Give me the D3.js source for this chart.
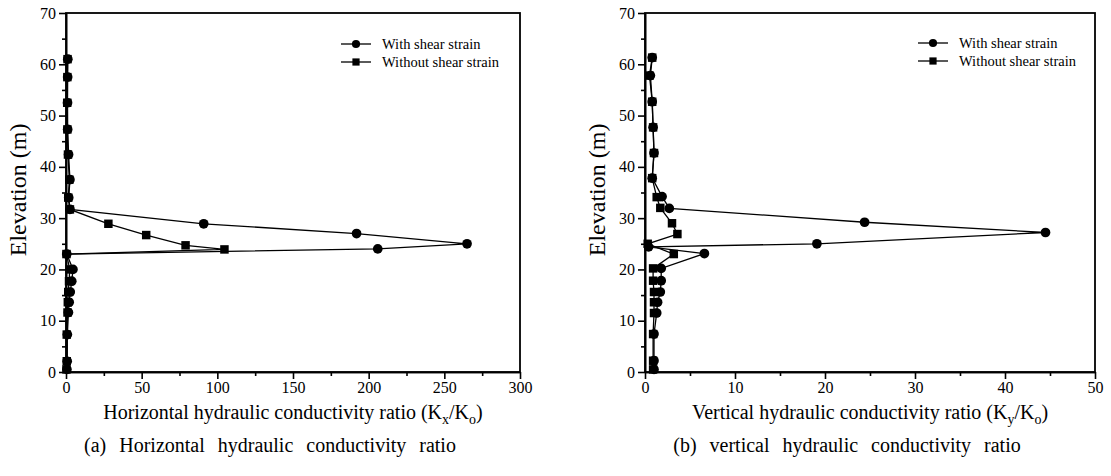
<!DOCTYPE html>
<html>
<head>
<meta charset="utf-8">
<script src="https://cdn.jsdelivr.net/npm/d3@7"></script>
<style>
body { margin: 0; background: #fff; }
svg text { font-family: "Liberation Serif", "DejaVu Serif", serif; fill: #000; }
.axis path, .axis line { stroke: #000; stroke-width: 1.6; }
.axis text { font-size: 16px; }
</style>
</head>
<body>
<svg id="chart" width="1111" height="476"></svg>
<script>
// (a) horizontal hydraulic conductivity ratio Kx/Ko
const elevAWith = [0.5, 2.1, 7.3, 11.6, 13.6, 15.6, 17.7, 20.0, 23.0, 24.0, 25.0, 27.0, 28.9, 31.7, 34.0, 37.5, 42.4, 47.3, 52.5, 57.5, 61.0];
const kxWith = [0.6, 0.8, 0.9, 1.6, 2.1, 2.8, 3.8, 4.6, 0.5, 206, 265, 192, 91, 2.6, 1.8, 2.6, 1.7, 1.1, 1.0, 1.1, 1.2];
const elevAWithout = [0.5, 2.1, 7.3, 11.6, 13.6, 15.6, 17.7, 20.0, 23.0, 23.9, 24.7, 26.7, 28.9, 31.7, 34.0, 37.5, 42.4, 47.3, 52.5, 57.5, 61.0];
const kxWithout = [0.3, 0.5, 0.5, 1.0, 1.2, 1.5, 2.0, 2.5, 0.3, 104.7, 79, 53, 28, 2.6, 1.5, 2.2, 1.3, 0.9, 0.8, 0.9, 1.0];

// (b) vertical hydraulic conductivity ratio Ky/Ko
const elevBWith = [0.5, 2.2, 7.4, 11.5, 13.6, 15.6, 17.8, 20.2, 23.1, 24.4, 25.0, 27.2, 29.2, 31.9, 34.2, 37.8, 42.7, 47.7, 52.7, 57.8, 61.3];
const kyWith = [1.0, 1.0, 1.0, 1.3, 1.4, 1.7, 1.8, 1.8, 6.6, 0.4, 19.1, 44.5, 24.4, 2.7, 1.9, 0.8, 1.0, 0.9, 0.8, 0.6, 0.8];
const elevBWithout = [0.5, 2.2, 7.4, 11.5, 13.6, 15.6, 17.8, 20.2, 23.0, 25.0, 26.9, 29.0, 32.0, 34.1, 37.8, 42.7, 47.7, 52.7, 57.8, 61.3];
const kyWithout = [0.9, 0.9, 0.9, 1.0, 1.0, 1.0, 0.9, 0.9, 3.2, 0.3, 3.6, 3.0, 1.7, 1.3, 0.8, 1.0, 0.9, 0.8, 0.5, 0.8];

const xTicksA = [0, 50, 100, 150, 200, 250, 300];
const xTicksB = [0, 10, 20, 30, 40, 50];
const yTicks = [0, 10, 20, 30, 40, 50, 60, 70];
const seriesNames = ['With shear strain', 'Without shear strain'];

const svg = d3.select('#chart');

const zip = (es, vs) => es.map((e, i) => ({e: e, v: vs[i]}));

// d3 axes put their own font attrs on the group, drop them
const plain = (sel) => sel.attr('font-family', null).attr('font-size', null);

const drawPanel = (cfg) => {
    const x = d3.scaleLinear().domain([0, cfg.xMax]).range([cfg.left, cfg.right]);
    const y = d3.scaleLinear().domain([0, 70]).range([372, 13]);
    const g = svg.append('g');

    // minor ticks
    const minorX = d3.range(0, cfg.xMax + 0.001, cfg.xMinor).filter(v => !cfg.xTicks.includes(v));
    g.append('g')
        .classed('axis', true)
        .attr('transform', 'translate(0,372)')
        .call(d3.axisBottom(x).tickValues(minorX).tickSize(4).tickSizeOuter(0).tickFormat(''));
    g.append('g')
        .classed('axis', true)
        .attr('transform', 'translate(' + cfg.left + ',0)')
        .call(d3.axisLeft(y).tickValues([5, 15, 25, 35, 45, 55, 65]).tickSize(4).tickSizeOuter(0).tickFormat(''));

    // major ticks
    g.append('g')
        .classed('axis', true)
        .attr('transform', 'translate(0,372)')
        .call(d3.axisBottom(x).tickValues(cfg.xTicks).tickSize(7).tickSizeOuter(0).tickPadding(3))
        .call(plain);
    g.append('g')
        .classed('axis', true)
        .attr('transform', 'translate(' + cfg.left + ',0)')
        .call(d3.axisLeft(y).tickValues(yTicks).tickSize(7).tickSizeOuter(0).tickPadding(3))
        .call(plain);

    // frame
    g.append('rect')
        .attr('x', x(0)).attr('y', y(70))
        .attr('width', x(cfg.xMax) - x(0)).attr('height', y(0) - y(70))
        .attr('fill', 'none').attr('stroke', '#000').attr('stroke-width', 1.8);

    const line = d3.line().x(d => x(d.v)).y(d => y(d.e));
    const series = [
        {pts: zip(cfg.elevWithout, cfg.without), shape: d3.symbolSquare, size: 72},
        {pts: zip(cfg.elevWith, cfg.with), shape: d3.symbolCircle, size: 74}
    ];
    series.forEach(s => {
        g.append('path')
            .datum(s.pts)
            .attr('d', line)
            .attr('fill', 'none').attr('stroke', '#000').attr('stroke-width', 1.3);
    });
    series.forEach(s => {
        g.selectAll(null)
            .data(s.pts)
            .enter().append('path')
            .attr('d', d3.symbol().type(s.shape).size(s.size))
            .attr('transform', d => 'translate(' + x(d.v) + ',' + y(d.e) + ')')
            .attr('fill', '#000');
    });

    // legend
    const leg = g.append('g');
    [d3.symbolCircle, d3.symbolSquare].forEach((shape, i) => {
        const ly = cfg.legendY + i * 18;
        leg.append('line')
            .attr('x1', cfg.legendX).attr('x2', cfg.legendX + 30)
            .attr('y1', ly).attr('y2', ly)
            .attr('stroke', '#000').attr('stroke-width', 1.3);
        leg.append('path')
            .attr('d', d3.symbol().type(shape).size(52))
            .attr('transform', 'translate(' + (cfg.legendX + 15) + ',' + ly + ')');
        leg.append('text')
            .attr('x', cfg.legendX + 41).attr('y', ly + 5)
            .attr('font-size', 14.5)
            .text(seriesNames[i]);
    });

    // y title
    g.append('text')
        .attr('transform', 'translate(' + (cfg.left - 40) + ',' + y(35.5) + ') rotate(-90)')
        .attr('text-anchor', 'middle')
        .attr('font-size', 24)
        .text('Elevation (m)');

    // x title with subscripts
    const cx = (x(0) + x(cfg.xMax)) / 2;
    const t = g.append('text')
        .attr('x', cx).attr('y', 419)
        .attr('text-anchor', 'middle')
        .attr('font-size', 20);
    t.append('tspan').text(cfg.xTitle + ' (K');
    t.append('tspan').attr('dy', 5).attr('font-size', 14).text(cfg.sub);
    t.append('tspan').attr('dy', -5).text('/K');
    t.append('tspan').attr('dy', 5).attr('font-size', 14).text('o');
    t.append('tspan').attr('dy', -5).text(')');

    // caption
    g.append('text')
        .attr('x', cx - 23).attr('y', 452)
        .attr('text-anchor', 'middle')
        .attr('font-size', 20)
        .attr('word-spacing', 8)
        .text(cfg.caption);
};

drawPanel({
    left: 66, right: 520, xMax: 300, xTicks: xTicksA, xMinor: 25,
    elevWith: elevAWith, with: kxWith, elevWithout: elevAWithout, without: kxWithout,
    legendX: 341, legendY: 44,
    xTitle: 'Horizontal hydraulic conductivity ratio', sub: 'x',
    caption: '(a) Horizontal hydraulic conductivity ratio'
});

drawPanel({
    left: 645, right: 1095, xMax: 50, xTicks: xTicksB, xMinor: 5,
    elevWith: elevBWith, with: kyWith, elevWithout: elevBWithout, without: kyWithout,
    legendX: 918, legendY: 43,
    xTitle: 'Vertical hydraulic conductivity ratio', sub: 'y',
    caption: '(b) vertical hydraulic conductivity ratio'
});
</script>
</body>
</html>
